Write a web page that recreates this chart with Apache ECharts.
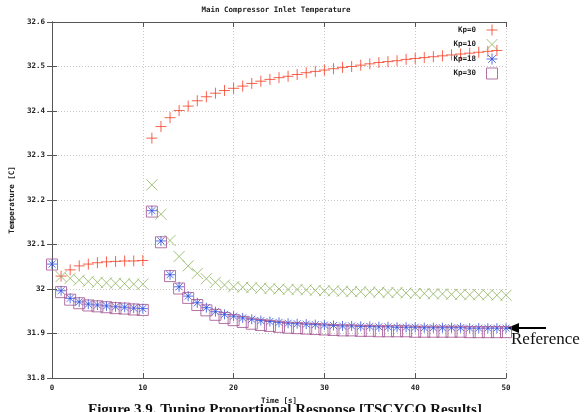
<!DOCTYPE html>
<html><head><meta charset="utf-8">
<script src="https://cdn.jsdelivr.net/npm/echarts@6/dist/echarts.min.js"></script>
<style>html,body{margin:0;padding:0;background:#fff}#c{width:588px;height:412px}</style>
</head><body><div id="c"></div>
<script>
const titleText = 'Main Compressor Inlet Temperature';
const xName = 'Time [s]';
const yName = 'Temperature [C]';
const caption = 'Figure 3.9. Tuning Proportional Response [TSCYCO Results]';
const seriesNames = ['Kp=0', 'Kp=10', 'Kp=18', 'Kp=30'];

const tA = [1,2,3,4,5,6,7,8,9,10];
const tB = [0,1,2,3,4,5,6,7,8,9,10];
const tLate = [11,12,13,14,15,16,17,18,19,20,21,22,23,24,25,26,27,28,29,30,31,32,33,34,35,36,37,38,39,40,41,42,43,44,45,46,47,48,49,50];

const kp0Early = [32.029,32.043,32.052,32.056,32.059,32.061,32.062,32.063,32.063,32.064];
const kp0Late = [32.339,32.365,32.385,32.401,32.411,32.423,32.432,32.440,32.446,32.451,32.456,32.462,32.467,32.471,32.475,32.478,32.482,32.486,32.489,32.492,32.495,32.498,32.500,32.503,32.506,32.509,32.511,32.513,32.516,32.518,32.520,32.522,32.524,32.526,32.528,32.530,32.532,32.534,32.536];

const kp10Early = [32.028,32.024,32.020,32.017,32.015,32.014,32.013,32.012,32.011,32.011];
const kp10Late = [32.234,32.168,32.109,32.073,32.052,32.035,32.023,32.015,32.009,32.005,32.004,32.003,32.002,32.001,32.000,31.999,31.999,31.998,31.997,31.996,31.996,31.995,31.994,31.994,31.993,31.993,31.992,31.992,31.991,31.990,31.990,31.989,31.989,31.988,31.988,31.987,31.987,31.987,31.986,31.986];

const kp18Early = [32.056,31.996,31.979,31.971,31.966,31.964,31.962,31.960,31.959,31.957,31.956];
const kp18Late = [32.176,32.108,32.032,32.005,31.984,31.969,31.958,31.949,31.943,31.939,31.935,31.932,31.929,31.927,31.925,31.923,31.922,31.921,31.920,31.919,31.918,31.917,31.917,31.916,31.916,31.915,31.915,31.914,31.914,31.914,31.913,31.913,31.913,31.913,31.913,31.912,31.912,31.912,31.912,31.912];

const kp30Early = [32.055,31.993,31.976,31.968,31.963,31.961,31.959,31.957,31.956,31.954,31.953];
const kp30Late = [32.174,32.105,32.029,32.001,31.980,31.964,31.952,31.942,31.935,31.930,31.926,31.922,31.919,31.917,31.915,31.913,31.912,31.911,31.910,31.909,31.908,31.907,31.907,31.906,31.906,31.905,31.905,31.905,31.905,31.904,31.904,31.904,31.904,31.904,31.904,31.903,31.903,31.903,31.903,31.903];

function pairs(ts, vs){ return vs.map((v,i)=>[ts[i], v]); }

const colors = ['#f53c22', '#8cb35a', '#2f4fe0', '#a0508f'];
const symPlus = 'path://M0,5L10,5M5,0L5,10';
const symCross = 'path://M0,0L10,10M10,0L0,10';
const symStar = 'path://M0,5L10,5M5,0L5,10M1.5,1.5L8.5,8.5M8.5,1.5L1.5,8.5';
const symBox = 'path://M0,0L10,0L10,10L0,10Z';
const symbols = [symPlus, symCross, symStar, symBox];
const sizes = [11, 11, 10, 11];

const datasets = [
  pairs(tA, kp0Early).concat(pairs(tLate, kp0Late)),
  pairs(tA, kp10Early).concat(pairs(tLate, kp10Late)),
  pairs(tB, kp18Early).concat(pairs(tLate, kp18Late)),
  pairs(tB, kp30Early).concat(pairs(tLate, kp30Late))
];

const monoFont = 'DejaVu Sans Mono';
const chart = echarts.init(document.getElementById('c'), null, {renderer:'canvas'});
const gridLine = {show:true, lineStyle:{color:'#c8c8c8', type:[1,2], width:1}};
const axLine = {show:true, lineStyle:{color:'#555', width:1}};
const lab = {fontFamily: monoFont, fontWeight:'bold', fontSize:7.5, color:'#222'};

chart.setOption({
  animation:false,
  title:{text:titleText, left:271, top:1, textAlign:'center',
    textStyle:{fontFamily:monoFont, fontWeight:'bold', fontSize:7.5, color:'#222'}},
  grid:{left:41, right:82, top:22, bottom:34},
  legend:{orient:'vertical', right:90, top:24, padding:0, align:'right', itemWidth:14, itemHeight:11, itemGap:2.5,
    textStyle:{fontFamily:monoFont, fontWeight:'bold', fontSize:7.5, lineHeight:11, color:'#222', padding:[0,4,0,0]},
    data: seriesNames.map((n,i)=>({name:n, itemStyle:{color:'rgba(0,0,0,0)', borderColor:colors[i], borderWidth:1}}))},
  xAxis:[{type:'value', min:0, max:50, interval:10, position:'bottom',
    name:xName, nameLocation:'middle', nameGap:16, nameTextStyle:lab,
    axisLine:axLine, axisTick:{show:true, inside:true, length:5, lineStyle:{color:'#555'}},
    axisLabel:Object.assign({margin:6}, lab), splitLine:gridLine},
   {type:'value', min:0, max:50, interval:10, position:'top',
    axisLine:axLine, axisTick:{show:true, inside:true, length:5, lineStyle:{color:'#555'}},
    axisLabel:{show:false}, splitLine:{show:false}}],
  yAxis:[{type:'value', min:31.8, max:32.6, interval:0.1, position:'left',
    name:yName, nameLocation:'middle', nameGap:36, nameTextStyle:lab,
    axisLine:axLine, axisTick:{show:true, inside:true, length:5, lineStyle:{color:'#555'}},
    axisLabel:Object.assign({margin:7, formatter:v=>String(Math.round(v*10)/10)}, lab), splitLine:gridLine},
   {type:'value', min:31.8, max:32.6, interval:0.1, position:'right',
    axisLine:axLine, axisTick:{show:true, inside:true, length:5, lineStyle:{color:'#555'}},
    axisLabel:{show:false}, splitLine:{show:false}}],
  series: seriesNames.map((n,i)=>({
    name:n, type:'scatter', xAxisIndex:0, yAxisIndex:0,
    symbol:symbols[i], symbolSize:sizes[i],
    itemStyle:{color:'rgba(0,0,0,0)', borderColor:colors[i], borderWidth:1},
    data:datasets[i]
  })),
  graphic:[
    {type:'text', left:88, top:403, style:{text:caption, fontFamily:'Liberation Serif', fontWeight:'bold', fontSize:15, fill:'#111'}},
    {type:'text', left:511, top:331, style:{text:'Reference', fontFamily:'Liberation Serif', fontSize:17, fill:'#111'}},
    {type:'line', shape:{x1:516, y1:328, x2:546, y2:328}, style:{stroke:'#000', lineWidth:2}},
    {type:'polygon', shape:{points:[[507,328],[519,323],[519,333]]}, style:{fill:'#000'}}
  ]
});
</script></body></html>
